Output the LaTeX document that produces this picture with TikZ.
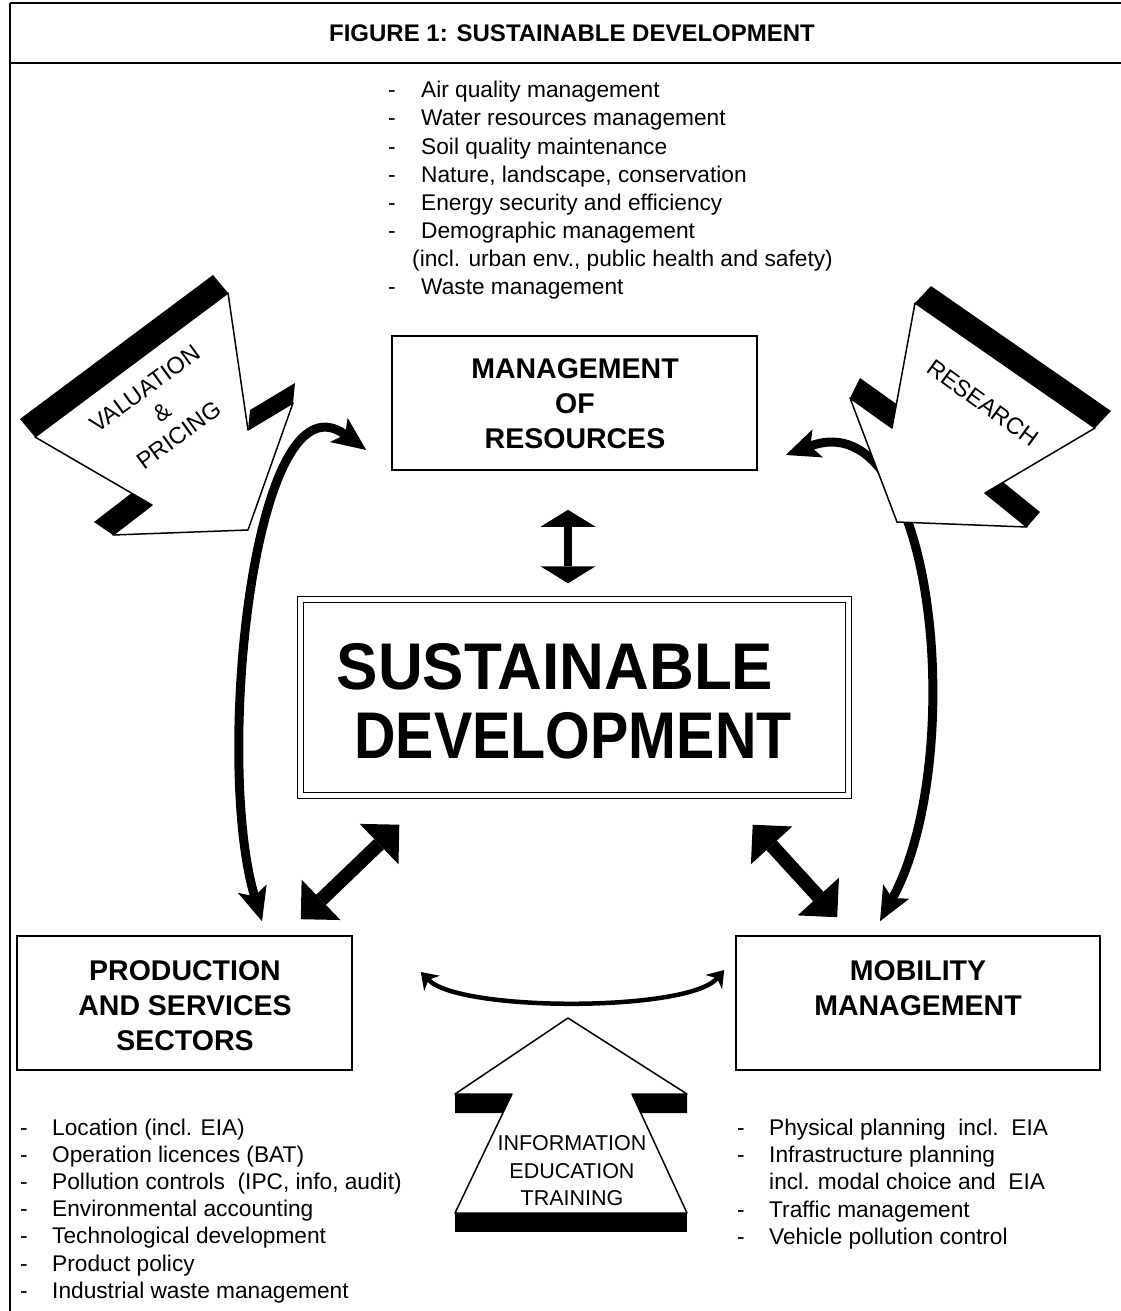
\documentclass[tikz,border=0pt]{standalone}
\usepackage{fontspec}
\setmainfont{Liberation Sans}
\usetikzlibrary{arrows.meta,calc}

\begin{document}
\begin{tikzpicture}[x=1pt,y=-1pt,
  box/.style={draw,line width=1.6pt,inner sep=0pt},
  boxlabel/.style={font=\fontsize{28.5}{35}\selectfont\bfseries,align=center,inner sep=0pt},
  item/.style={font=\fontsize{22.7}{27}\selectfont,anchor=base west,inner sep=0pt},
  flowlabel/.style={font=\fontsize{23.5}{29}\selectfont,align=center,inner sep=0pt},
  bigword/.style={font=\fontsize{66}{70}\selectfont\bfseries,inner sep=0pt},
  solid3d/.style={draw,fill=white,line width=1.5pt,line join=round},
  bigcurve/.style={line width=9pt,>={Stealth[length=34pt,width=30pt,inset=8pt,line width=0pt]},<->},
  smallcurve/.style={line width=4.5pt,>={Stealth[length=16pt,width=22pt,inset=5pt,line width=0pt]},<->},
  vdbl/.style={line width=8pt,>={Triangle[length=17pt,width=55pt,line width=0pt]},<->},
  ddbl/.style={line width=14pt,>={Triangle[length=28pt,width=56pt,line width=0pt]},<->}
]
\useasboundingbox[fill=white] (0,0) rectangle (1121,1311);

% frame and title bar
\draw[line width=2pt] (10,3) -- (10,1311);
\draw[line width=1.2pt] (10,3) -- (1121,3);
\draw[line width=2.6pt] (10,63) -- (1121,63);
\node[font=\fontsize{24}{26}\selectfont\bfseries,inner sep=0pt] (title) at (572,33) {FIGURE 1: SUSTAINABLE DEVELOPMENT};

% resource management topics
\foreach \txt [count=\i] in {Air quality management, Water resources management, Soil quality maintenance, {Nature, landscape, conservation}, Energy security and efficiency, Demographic management}{
  \node[item] (rd\i) at (388,{70+28*\i}) {-};
  \node[item] (rt\i) at (421,{70+28*\i}) {\txt};
}
\node[item] (rt7) at (412,266) {(incl. urban env., public health and safety)};
\node[item] (rd8) at (388,294) {-};
\node[item] (rt8) at (421,294) {Waste management};

% main boxes
\node[box,minimum width=365pt,minimum height=134pt] (mr) at (574.5,403) {};
\node[boxlabel] (mrl) at (575,404) {MANAGEMENT\\OF\\RESOURCES};

\node[draw,double,double distance=5pt,line width=1.4pt,minimum width=548pt,minimum height=196pt,inner sep=0pt] (sd) at (574.5,697.5) {};
\node[bigword] (sd1) at (555,667) {\scalebox{0.94}[1]{SUSTAINABLE}};
\node[bigword] (sd2) at (573,736) {\scalebox{0.87}[1]{DEVELOPMENT}};

\node[box,minimum width=335pt,minimum height=134pt] (pr) at (184.5,1003) {};
\node[boxlabel] (prl) at (185,1006) {PRODUCTION\\AND SERVICES\\SECTORS};

\node[box,minimum width=364pt,minimum height=134pt] (mb) at (918,1003) {};
\node[boxlabel] (mbl) at (918,988.5) {MOBILITY\\MANAGEMENT};

% links between the boxes
\draw[vdbl,shorten <=39pt,shorten >=15.5pt] ([xshift=-6.5pt]mr.south) -- ([xshift=-6.5pt]sd.north);
\draw[ddbl] ([shift={(-52,-16)}]pr.north east) -- ([shift={(99.5,28.5)}]sd.south west);
\draw[ddbl] ([shift={(102,-18)}]mb.north west) -- ([shift={(-96.5,28.5)}]sd.south east);
\draw[bigcurve] ([shift={(77.5,-14)}]pr.north) .. controls (214,760) and (254,368) .. ([shift={(-25,47)}]mr.west);
\draw[bigcurve] ([shift={(-38,-14)}]mb.north) .. controls (968,760) and (936,400) .. ([shift={(28,52)}]mr.east);
\draw[smallcurve] ([shift={(68,-31)}]pr.east) .. controls (460,1012) and (688,1012) .. ([shift={(-11,-33)}]mb.west);

% valuation & pricing block arrow
\fill (35,437) -- (228,293) -- (213,275) -- (20,419) -- cycle;
\fill (152,505) -- (113,535) -- (94,522) -- (133,492) -- cycle;
\fill (248,430) -- (293,403) -- (295,383) -- (250,410) -- cycle;
\draw[solid3d] (228,293) -- (35,437) -- (152,505) -- (113,535) -- (248,530) -- (293,403) -- (248,430) -- cycle;
\node[flowlabel,rotate=36] (val) at (162,412) {VALUATION\\\&\\PRICING};

% research block arrow
\fill (915,303) -- (1095,428) -- (1111,411) -- (931,286) -- cycle;
\fill (985,493) -- (1027,527) -- (1040,512) -- (998,478) -- cycle;
\fill (850,398) -- (892,428) -- (902,408) -- (860,378) -- cycle;
\draw[solid3d] (915,303) -- (1095,428) -- (985,493) -- (1027,527) -- (897,522) -- (850,398) -- (892,428) -- cycle;
\node[flowlabel,rotate=-36] (res) at (983,403) {RESEARCH};

% information / education / training block arrow
\fill (455,1094) -- (512,1094) -- (503,1113) -- (455,1113) -- cycle;
\fill (632,1094) -- (687,1094) -- (687,1113) -- (641,1113) -- cycle;
\fill (455,1213) -- (687,1213) -- (687,1232) -- (455,1232) -- cycle;
\draw[solid3d] (568,1018) -- (687,1094) -- (632,1094) -- (687,1213) -- (455,1213) -- (512,1094) -- (455,1094) -- cycle;
\node[flowlabel,font=\fontsize{21.5}{27.5}\selectfont] (iet) at (572,1171) {INFORMATION\\EDUCATION\\TRAINING};

% production topics
\foreach \txt [count=\i] in {Location (incl. EIA), Operation licences (BAT), {Pollution controls\ \ (IPC, info, audit)}, Environmental accounting, Technological development, Product policy, Industrial waste management}{
  \node[item] (pd\i) at (20,{1107.8+27.2*\i}) {-};
  \node[item] (pt\i) at (52,{1107.8+27.2*\i}) {\txt};
}

% mobility topics
\node[item] (md1) at (737,1135) {-};
\node[item] (mt1) at (769,1135) {Physical planning\ \ incl.\ \ EIA};
\node[item] (md2) at (737,1162) {-};
\node[item] (mt2) at (769,1162) {Infrastructure planning};
\node[item] (mt3) at (769,1189) {incl. modal choice and\ \ EIA};
\node[item] (md4) at (737,1217) {-};
\node[item] (mt4) at (769,1217) {Traffic management};
\node[item] (md5) at (737,1244) {-};
\node[item] (mt5) at (769,1244) {Vehicle pollution control};
\end{tikzpicture}
\end{document}
